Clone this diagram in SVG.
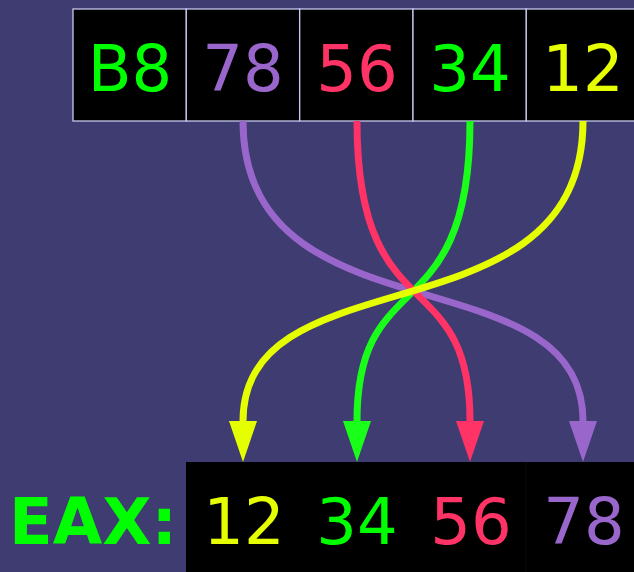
<svg xmlns="http://www.w3.org/2000/svg" width="634" height="572" viewBox="0 0 634 572">
<style>
.t{font-family:"DejaVu Sans",Verdana,sans-serif;font-size:64px;text-anchor:middle}
.c{fill:#000;stroke:#c8c8f0;stroke-width:1.3}
.w{fill:none;stroke-width:7}
.g{fill:#00ff00}.p{fill:#9966cc}.r{fill:#ff3366}.y{fill:#e6ff00}
</style>
<defs>
<marker id="mp" markerUnits="userSpaceOnUse" markerWidth="44" markerHeight="30" refX="0" refY="14" orient="auto" viewBox="0 0 44 30"><polygon points="0,0 41,14 0,28" fill="#9966cc"/></marker>
<marker id="mr" markerUnits="userSpaceOnUse" markerWidth="44" markerHeight="30" refX="0" refY="14" orient="auto" viewBox="0 0 44 30"><polygon points="0,0 41,14 0,28" fill="#ff3366"/></marker>
<marker id="mg" markerUnits="userSpaceOnUse" markerWidth="44" markerHeight="30" refX="0" refY="14" orient="auto" viewBox="0 0 44 30"><polygon points="0,0 41,14 0,28" fill="#1aff1a"/></marker>
<marker id="my" markerUnits="userSpaceOnUse" markerWidth="44" markerHeight="30" refX="0" refY="14" orient="auto" viewBox="0 0 44 30"><polygon points="0,0 41,14 0,28" fill="#e6ff00"/></marker>
</defs>
<rect width="634" height="572" fill="#3e3c70"/>
<g id="src">
<g id="s0"><rect class="c" x="73" y="9" width="113.3" height="112"/><text class="t g" x="130" y="91">B8</text></g>
<g id="s1"><rect class="c" x="186.3" y="9" width="113.3" height="112"/><text class="t p" x="243" y="91">78</text></g>
<g id="s2"><rect class="c" x="299.7" y="9" width="113.3" height="112"/><text class="t r" x="357" y="91">56</text></g>
<g id="s3"><rect class="c" x="413" y="9" width="113.3" height="112"/><text class="t g" x="470" y="91">34</text></g>
<g id="s4"><rect class="c" x="526.3" y="9" width="113.3" height="112"/><text class="t y" x="583" y="91">12</text></g>
</g>
<g id="eax">
<text x="9" y="544" style="font-family:'DejaVu Sans',Verdana,sans-serif;font-size:64px;font-weight:bold" fill="#00ff00">EAX:</text>
<rect x="186" y="462" width="448" height="110" fill="#000"/>
<line x1="526" y1="462" x2="526" y2="572" stroke="#0c0c0c" stroke-width="1"/>
<text class="t y" x="244" y="544">12</text>
<text class="t g" x="357" y="544">34</text>
<text class="t r" x="471" y="544">56</text>
<text class="t p" x="584" y="544">78</text>
</g>
<g id="connectors">
<path class="w" stroke="#9966cc" d="M243,121 C243,345 583,250 583,421" marker-end="url(#mp)"/>
<path class="w" stroke="#1aff1a" d="M470,121 C470,334 357,261 357,421" marker-end="url(#mg)"/>
<path class="w" stroke="#ff3366" d="M357,121 C357,334 470,261 470,421" marker-end="url(#mr)"/>
<path class="w" stroke="#e6ff00" d="M583,121 C583,345 243,250 243,421" marker-end="url(#my)"/>
</g>
</svg>
